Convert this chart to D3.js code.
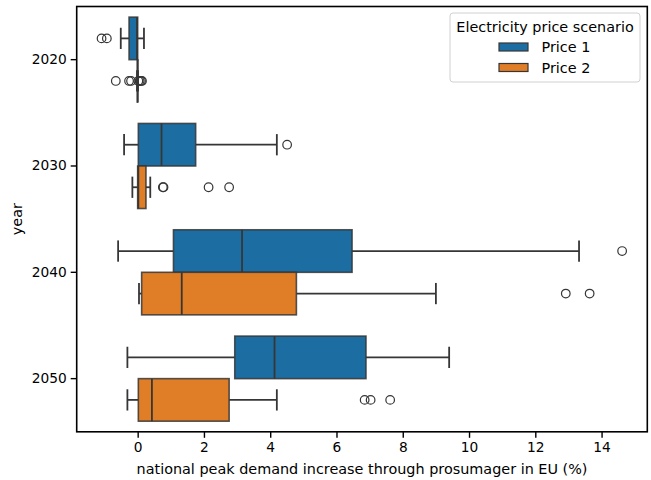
<!DOCTYPE html>
<html>
<head>
<meta charset="utf-8">
<script src="https://cdn.jsdelivr.net/npm/d3@7"></script>
<style>
  body { margin: 0; background: #fff; }
  svg { font-family: "DejaVu Sans", sans-serif; }
</style>
</head>
<body>
<div id="chart"></div>
<script>
// categories
var years = ["2020", "2030", "2040", "2050"];
var scenarios = ["Price 1", "Price 2"];
var xTicks = [0, 2, 4, 6, 8, 10, 12, 14];

// box stats per year: [whisker low, q1, median, q3, whisker high]
var price1Stats = [
  [-0.51, -0.26, -0.02, 0.0, 0.19],
  [-0.41, 0.02, 0.72, 1.75, 4.20],
  [-0.59, 1.08, 3.15, 6.47, 13.32],
  [-0.31, 2.93, 4.13, 6.89, 9.40]
];
var price2Stats = [
  [-0.02, -0.01, 0.0, 0.0, 0.01],
  [-0.16, 0.0, 0.02, 0.25, 0.38],
  [0.04, 0.12, 1.33, 4.79, 9.00],
  [-0.31, 0.02, 0.43, 2.76, 4.20]
];
// outliers per year
var price1Fliers = [
  [-1.09, -0.93],
  [4.51],
  [14.62],
  []
];
var price2Fliers = [
  [-0.66, -0.26, -0.20, 0.02, 0.06, 0.10, 0.13],
  [0.76, 0.78, 2.14, 2.76],
  [12.92, 13.64],
  [6.85, 7.03, 7.62]
];

var colors = ["#1c6ea2", "#e07e27"];
var lineColor = "#363636";

var W = 651, H = 480;
var margin = {left: 76.7, right: 647.3, top: 6.5, bottom: 431.8};

var svg = d3.select("#chart").append("svg")
  .attr("width", W)
  .attr("height", H);

var x = d3.scaleLinear()
  .domain([-1.84, 15.38])
  .range([margin.left, margin.right]);

var y = d3.scaleBand()
  .domain(years)
  .range([margin.top, margin.bottom])
  .padding(0);

var inner = d3.scaleBand()
  .domain(scenarios)
  .range([y.bandwidth() * 0.1, y.bandwidth() * 0.9])
  .padding(0);

var series = [
  {name: scenarios[0], stats: price1Stats, fliers: price1Fliers, color: colors[0]},
  {name: scenarios[1], stats: price2Stats, fliers: price2Fliers, color: colors[1]}
];

var plot = svg.append("g");

series.forEach(function(s, si) {
  var bh = inner.bandwidth();
  var g = plot.selectAll(".box" + si)
    .data(years)
    .enter().append("g")
    .attr("class", "box" + si)
    .attr("transform", function(d) {
      return "translate(0," + (y(d) + inner(s.name)) + ")";
    });

  // whiskers
  g.append("line")
    .attr("x1", function(d, i) { return x(s.stats[i][0]); })
    .attr("x2", function(d, i) { return x(s.stats[i][1]); })
    .attr("y1", bh / 2).attr("y2", bh / 2)
    .attr("stroke", lineColor).attr("stroke-width", 1.8);
  g.append("line")
    .attr("x1", function(d, i) { return x(s.stats[i][3]); })
    .attr("x2", function(d, i) { return x(s.stats[i][4]); })
    .attr("y1", bh / 2).attr("y2", bh / 2)
    .attr("stroke", lineColor).attr("stroke-width", 1.8);
  // caps
  [0, 4].forEach(function(k) {
    g.append("line")
      .attr("x1", function(d, i) { return x(s.stats[i][k]); })
      .attr("x2", function(d, i) { return x(s.stats[i][k]); })
      .attr("y1", bh / 4).attr("y2", bh * 3 / 4)
      .attr("stroke", lineColor).attr("stroke-width", 1.8);
  });

  // box
  g.append("rect")
    .attr("x", function(d, i) { return x(s.stats[i][1]); })
    .attr("width", function(d, i) { return Math.max(0, x(s.stats[i][3]) - x(s.stats[i][1])); })
    .attr("y", 0)
    .attr("height", bh)
    .attr("fill", s.color)
    .attr("stroke", lineColor)
    .attr("stroke-opacity", 0.85)
    .attr("stroke-width", 1.6);

  // median
  g.append("line")
    .attr("x1", function(d, i) { return x(s.stats[i][2]); })
    .attr("x2", function(d, i) { return x(s.stats[i][2]); })
    .attr("y1", 0).attr("y2", bh)
    .attr("stroke", lineColor).attr("stroke-width", 1.8);

  // fliers
  g.selectAll("circle")
    .data(function(d, i) { return s.fliers[i]; })
    .enter().append("circle")
    .attr("cx", function(v) { return x(v); })
    .attr("cy", bh / 2)
    .attr("r", 4.3)
    .attr("fill", "none")
    .attr("stroke", lineColor)
    .attr("stroke-width", 1.2);
});

// axes
var xAxis = d3.axisBottom(x)
  .tickValues(xTicks)
  .tickSize(6)
  .tickSizeOuter(0)
  .tickPadding(4);

var yAxis = d3.axisLeft(y)
  .tickSize(6)
  .tickSizeOuter(0)
  .tickPadding(4);

var gx = svg.append("g")
  .attr("transform", "translate(0," + margin.bottom + ")")
  .call(xAxis);
gx.select(".domain").remove();

var gy = svg.append("g")
  .attr("transform", "translate(" + margin.left + ",0)")
  .call(yAxis);
gy.select(".domain").remove();

svg.selectAll(".tick line").attr("stroke", "#000").attr("stroke-width", 1.4);
svg.selectAll(".tick text")
  .attr("fill", "#000")
  .style("font-size", "13.75px")
  .style("font-family", "DejaVu Sans, sans-serif");

// frame
svg.append("rect")
  .attr("x", margin.left).attr("y", margin.top)
  .attr("width", margin.right - margin.left).attr("height", margin.bottom - margin.top)
  .attr("fill", "none")
  .attr("stroke", "#000")
  .attr("stroke-width", 1.6);

// labels
svg.append("text")
  .attr("x", (margin.left + margin.right) / 2)
  .attr("y", 474)
  .attr("text-anchor", "middle")
  .style("font-size", "14.4px")
  .text("national peak demand increase through prosumager in EU (%)");

svg.append("text")
  .attr("transform", "translate(22," + ((margin.top + margin.bottom) / 2) + ") rotate(-90)")
  .attr("text-anchor", "middle")
  .style("font-size", "14.4px")
  .text("year");

// legend
var legend = svg.append("g").attr("transform", "translate(450,13)");
legend.append("rect")
  .attr("width", 190).attr("height", 69)
  .attr("rx", 3)
  .attr("fill", "#fff").attr("fill-opacity", 0.8)
  .attr("stroke", "#d0d0d0").attr("stroke-width", 1);
legend.append("text")
  .attr("x", 95).attr("y", 18.5)
  .attr("text-anchor", "middle")
  .style("font-size", "14.4px")
  .text("Electricity price scenario");

var items = legend.selectAll(".item")
  .data(scenarios)
  .enter().append("g")
  .attr("class", "item")
  .attr("transform", function(d, i) { return "translate(0," + (30 + i * 20.5) + ")"; });
items.append("rect")
  .attr("x", 49).attr("y", 0)
  .attr("width", 29).attr("height", 8)
  .attr("fill", function(d, i) { return colors[i]; })
  .attr("stroke", lineColor).attr("stroke-width", 1.2);
items.append("text")
  .attr("x", 91.5).attr("y", 9)
  .style("font-size", "14.4px")
  .text(function(d) { return d; });
</script>
</body>
</html>
